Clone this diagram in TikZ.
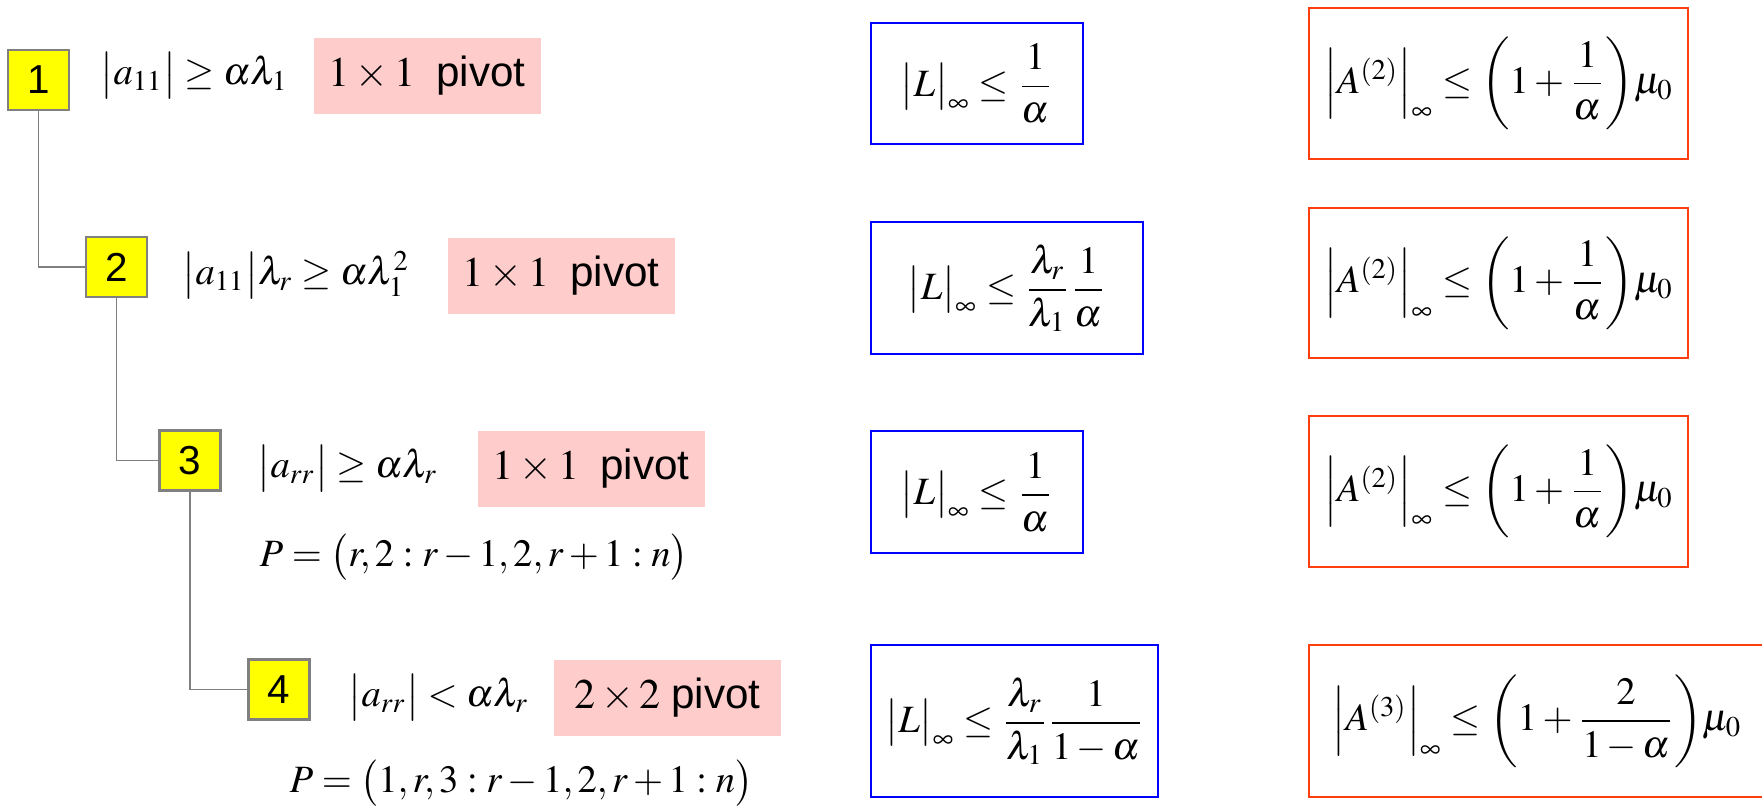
\documentclass[tikz,border=0pt]{standalone}
\usepackage{amsmath}
\usepackage{mathptmx}
\usepackage[no-math]{fontspec}
\setmainfont{Liberation Serif}
\newfontfamily\arialfont{Liberation Sans}
\usetikzlibrary{positioning}

\definecolor{boxyellow}{RGB}{255,255,0}
\definecolor{pivotpink}{RGB}{255,204,204}
\definecolor{boundblue}{RGB}{0,0,255}
\definecolor{boundred}{RGB}{255,61,13}
\definecolor{linegray}{RGB}{128,128,128}

% tighter spacing, closer to the equation editor look
\medmuskip=2.5mu plus 1mu minus 1mu
\thickmuskip=4mu plus 2mu minus 1mu

\begin{document}
\begin{tikzpicture}[
  x=0.1mm, y=-0.1mm,
  font=\fontsize{11}{13}\selectfont,
  numbox/.style={draw=linegray,line width=0.6pt,fill=boxyellow,minimum width=6.1mm,
                 minimum height=6mm,inner sep=0pt,font=\arialfont\fontsize{11.5}{13}\selectfont},
  pivotbox/.style={fill=pivotpink,minimum width=22.7mm,minimum height=7.6mm,inner sep=0pt,
                   anchor=north west,font=\fontsize{12}{14}\selectfont},
  cond/.style={inner sep=0pt,anchor=base west},
  lbound/.style={draw=boundblue,line width=0.7pt,inner sep=0pt,anchor=north west},
  abound/.style={draw=boundred,line width=0.7pt,inner sep=0pt,anchor=north west},
  link/.style={draw=linegray,line width=0.5pt},
]
  \useasboundingbox (0,0) rectangle (1762,806);

  % decision steps
  \node[numbox] (n1) at (38.5,80) {1};
  \node[numbox] (n2) at (116.5,267) {2};
  \node[numbox] (n3) at (190,460.5) {3};
  \node[numbox] (n4) at (279,689.5) {4};
  \draw[link] (n1.south) |- (n2.west);
  \draw[link] (n2.south) |- (n3.west);
  \draw[link] (n3.south) |- (n4.west);

  % tests
  \node[cond] (c1) at (100,85) {$\bigl|a_{11}\bigr| \ge \alpha\lambda_1$};
  \node[cond] (c2) at (182,285) {$\bigl|a_{11}\bigr|\lambda_r \ge \alpha\lambda_1^2$};
  \node[cond] (c3) at (257,478) {$\bigl|a_{rr}\bigr| \ge \alpha\lambda_r$};
  \node[cond] (perm3) at (259,567) {$P=\bigl(r,2:r-1,2,r+1:n\bigr)$};
  \node[cond] (c4) at (348,707) {$\bigl|a_{rr}\bigr| < \alpha\lambda_r$};
  \node[cond] (perm4) at (289,793) {$P=\bigl(1,r,3:r-1,2,r+1:n\bigr)$};

  % pivot kind
  \node[pivotbox] (p1) at (313,37) {$1\times1$\ \ {\arialfont pivot}};
  \node[pivotbox] (p2) at (447,237) {$1\times1$\ \ {\arialfont pivot}};
  \node[pivotbox] (p3) at (477,430) {$1\times1$\ \ {\arialfont pivot}};
  \node[pivotbox] (p4) at (553,659) {$2\times2$ {\arialfont pivot}};

  % bounds on L
  \node[lbound,minimum width=21.2mm,minimum height=12.1mm] (l1) at (870,22)
    {$\bigl|L\bigr|_\infty \le \dfrac{1}{\alpha}$};
  \node[lbound,minimum width=27.2mm,minimum height=13.2mm] (l2) at (870,221)
    {$\bigl|L\bigr|_\infty \le \dfrac{\lambda_r}{\lambda_1}\dfrac{1}{\alpha}$};
  \node[lbound,minimum width=21.2mm,minimum height=12.2mm] (l3) at (870,430)
    {$\bigl|L\bigr|_\infty \le \dfrac{1}{\alpha}$};
  \node[lbound,minimum width=28.7mm,minimum height=15.2mm] (l4) at (870,644)
    {$\bigl|L\bigr|_\infty \le \dfrac{\lambda_r}{\lambda_1}\dfrac{1}{1-\alpha}$};

  % growth of A
  \node[abound,minimum width=37.9mm,minimum height=15.1mm] (a1) at (1308,7)
    {$\Bigl|A^{(2)}\Bigr|_\infty \le \left(1+\dfrac{1}{\alpha}\right)\!\mu_0$};
  \node[abound,minimum width=37.9mm,minimum height=15mm] (a2) at (1308,207)
    {$\Bigl|A^{(2)}\Bigr|_\infty \le \left(1+\dfrac{1}{\alpha}\right)\!\mu_0$};
  \node[abound,minimum width=37.9mm,minimum height=15.1mm] (a3) at (1308,415)
    {$\Bigl|A^{(2)}\Bigr|_\infty \le \left(1+\dfrac{1}{\alpha}\right)\!\mu_0$};
  \node[abound,minimum width=45.6mm,minimum height=15.2mm] (a4) at (1308,644)
    {$\Bigl|A^{(3)}\Bigr|_\infty \le \left(1+\dfrac{2}{1-\alpha}\right)\!\mu_0$};
\end{tikzpicture}
\end{document}
